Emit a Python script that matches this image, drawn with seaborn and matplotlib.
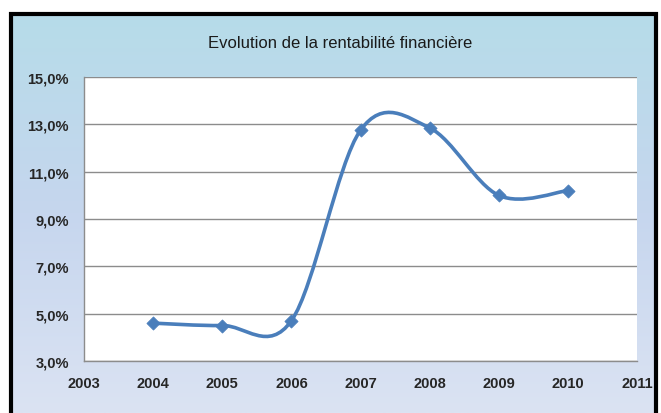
import matplotlib
matplotlib.use("Agg")
import matplotlib.pyplot as plt
import numpy as np
import pandas as pd
import seaborn as sns
from matplotlib.patches import PathPatch, Rectangle
from matplotlib.path import Path
from matplotlib.colors import LinearSegmentedColormap
from matplotlib.ticker import FixedLocator, FuncFormatter, MultipleLocator

YEARS = [2004, 2005, 2006, 2007, 2008, 2009, 2010]
RENTABILITE = [4.6, 4.5, 4.7, 12.75, 12.85, 10.0, 10.2]
Y_TICKS = [3, 5, 7, 9, 11, 13, 15]
TITLE = "Evolution de la rentabilité financière"

LINE_COLOR = "#4a7ebb"
FONT = ["Liberation Sans Narrow", "Liberation Sans", "DejaVu Sans"]

sns.set_style("white")
plt.rcParams["font.family"] = FONT


def smooth_path(xs, ys):
    # Excel-like smoothed line: Catmull-Rom segments as cubic Bezier curves
    pts = np.column_stack([xs, ys]).astype(float)
    n = len(pts)
    verts = [pts[0]]
    codes = [Path.MOVETO]
    for i in range(n - 1):
        p0 = pts[max(i - 1, 0)]
        p1 = pts[i]
        p2 = pts[i + 1]
        p3 = pts[min(i + 2, n - 1)]
        c1 = p1 + (p2 - p0) / 6.0
        c2 = p2 - (p3 - p1) / 6.0
        verts += [c1, c2, p2]
        codes += [Path.CURVE4] * 3
    return Path(verts, codes)


df = pd.DataFrame({"annee": YEARS, "rentabilite": RENTABILITE})

fig = plt.figure(figsize=(6.61, 4.14), dpi=100)
fig.patch.set_facecolor("white")

# gradient chart background with black frame
bg = fig.add_axes([0.0, 0.0, 1.0, 1.0], zorder=-10)
grad = LinearSegmentedColormap.from_list("bg", ["#b6dce9", "#c6d6ee", "#dbe3f3"])
bg.imshow(np.linspace(0, 1, 256).reshape(-1, 1), aspect="auto", cmap=grad,
          extent=[0.017, 0.992, 0.0, 0.963], origin="upper")
bg.set_xlim(0, 1)
bg.set_ylim(0, 1)
bg.add_patch(Rectangle((0.017, -0.02), 0.975, 0.983, fill=False, edgecolor="black", linewidth=3))
bg.axis("off")

ax = fig.add_axes([84 / 661, 1 - 362 / 414, (637 - 84) / 661, (362 - 78) / 414])
ax.set_facecolor("white")

ax.add_patch(PathPatch(smooth_path(df["annee"], df["rentabilite"]), fill=False,
                       edgecolor=LINE_COLOR, linewidth=2.6, zorder=3))
sns.scatterplot(data=df, x="annee", y="rentabilite", marker="D", s=45, color=LINE_COLOR,
                edgecolor=LINE_COLOR, zorder=4, ax=ax, legend=False)

ax.set_xlim(2003, 2011)
ax.set_ylim(Y_TICKS[0], Y_TICKS[-1])
ax.xaxis.set_major_locator(MultipleLocator(1))
ax.yaxis.set_major_locator(FixedLocator(Y_TICKS))
ax.yaxis.set_major_formatter(FuncFormatter(lambda v, _: f"{v:.1f}%".replace(".", ",")))
ax.xaxis.set_major_formatter(FuncFormatter(lambda v, _: f"{int(v)}"))
ax.grid(axis="y", color="#8c8c8c", linewidth=1)
ax.set_axisbelow(True)
ax.set_xlabel("")
ax.set_ylabel("")
for side in ["top", "right"]:
    ax.spines[side].set_visible(False)
for side in ["left", "bottom"]:
    ax.spines[side].set_color("#8c8c8c")
    ax.spines[side].set_linewidth(1)
ax.tick_params(axis="both", direction="out", length=5, width=1, color="#8c8c8c",
               labelsize=10.5, pad=6)
for lbl in ax.get_xticklabels() + ax.get_yticklabels():
    lbl.set_fontweight("bold")

fig.text(340 / 661, 1 - 43 / 414, TITLE, ha="center", va="center", fontsize=12,
         color="#1a1a1a")

fig.savefig("out.png", dpi=100)
